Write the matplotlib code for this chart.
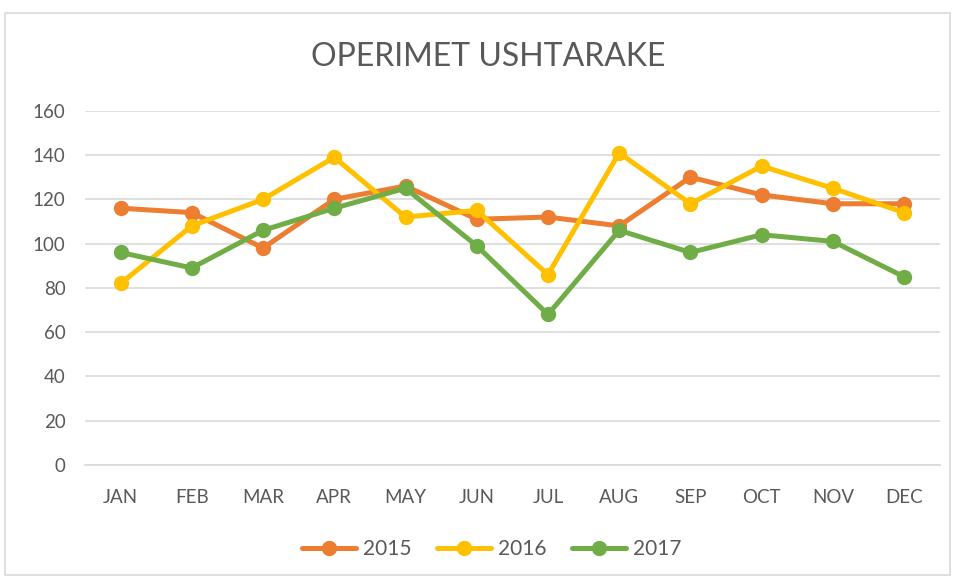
import matplotlib.pyplot as plt
from matplotlib.patches import Rectangle

months = ['JAN', 'FEB', 'MAR', 'APR', 'MAY', 'JUN', 'JUL', 'AUG', 'SEP', 'OCT', 'NOV', 'DEC']
vals_2015 = [116, 114, 98, 120, 126, 111, 112, 108, 130, 122, 118, 118]
vals_2016 = [82, 108, 120, 139, 112, 115, 86, 141, 118, 135, 125, 114]
vals_2017 = [96, 89, 106, 116, 125, 99, 68, 106, 96, 104, 101, 85]
series = [('2015', vals_2015, '#ED7D31'), ('2016', vals_2016, '#FFC000'), ('2017', vals_2017, '#70AD47')]

plt.rcParams['font.family'] = ['Lato', 'DejaVu Sans']
text_color = '#595959'

fig = plt.figure(figsize=(9.55, 5.81), dpi=100)
ax = fig.add_axes([0.089, 0.1997, 0.895, 0.6096])

x = range(len(months))
for label, vals, color in series:
    ax.plot(x, vals, color=color, lw=3.6, marker='o', markersize=10, label=label,
            solid_capstyle='round')

ax.set_xlim(-0.5, len(months) - 0.5)
ax.set_ylim(0, 160)
ax.set_yticks(range(0, 161, 20))
ax.set_xticks(list(x))
ax.set_xticklabels(months)
ax.grid(axis='y', color='#D9D9D9', lw=1.2)
ax.set_axisbelow(True)
for side in ['top', 'right', 'left']:
    ax.spines[side].set_visible(False)
ax.spines['bottom'].set_color('#D9D9D9')
ax.spines['bottom'].set_linewidth(1.2)
ax.tick_params(axis='both', length=0, colors=text_color, labelsize=13.5)
ax.tick_params(axis='y', pad=14)
ax.tick_params(axis='x', pad=17)

fig.text(0.511, 0.902, 'OPERIMET USHTARAKE', ha='center', va='center',
         fontsize=23, color=text_color)

fig.legend(loc='center', bbox_to_anchor=(0.515, 0.055), ncol=3, frameon=False,
           fontsize=15, labelcolor=text_color, handlelength=2.6, columnspacing=1.2,
           handletextpad=0.35)

fig.patches.append(Rectangle((0.005, 0.01), 0.99, 0.968, transform=fig.transFigure,
                             fill=False, edgecolor='#D9D9D9', lw=1.2))

fig.savefig('out.png', dpi=100)
